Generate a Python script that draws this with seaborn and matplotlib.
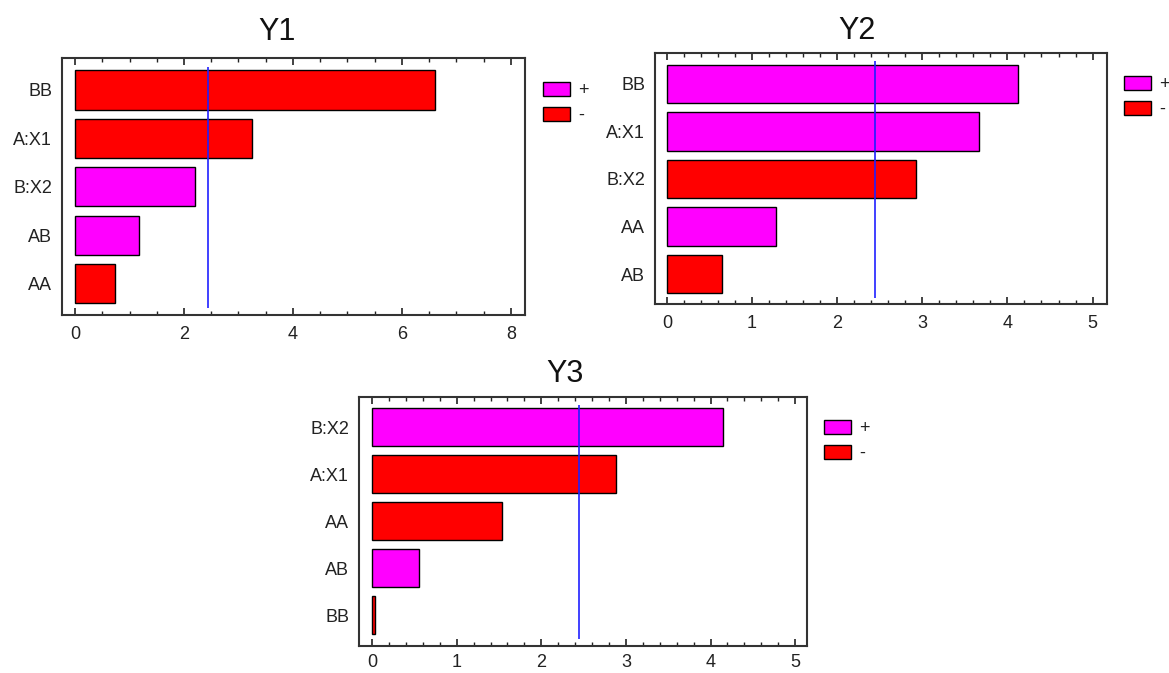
import matplotlib
matplotlib.use("Agg")
import matplotlib.pyplot as plt
from matplotlib.patches import Patch
from matplotlib.ticker import MultipleLocator
import seaborn as sns
import pandas as pd

sns.set_theme(style="white")
plt.rcParams["font.family"] = ["Liberation Sans", "DejaVu Sans"]

# Standardized effects (Pareto charts) for each response
y1_terms = ["BB", "A:X1", "B:X2", "AB", "AA"]
y1_effects = [6.6, 3.25, 2.2, 1.17, 0.73]
y1_signs = ["-", "-", "+", "+", "-"]

y2_terms = ["BB", "A:X1", "B:X2", "AA", "AB"]
y2_effects = [4.12, 3.67, 2.93, 1.28, 0.65]
y2_signs = ["+", "+", "-", "+", "-"]

y3_terms = ["B:X2", "A:X1", "AA", "AB", "BB"]
y3_effects = [4.15, 2.88, 1.54, 0.55, 0.04]
y3_signs = ["+", "-", "-", "+", "-"]

# critical t value (alpha = 0.05)
t_crit = 2.447

palette = {"+": "#FF00FF", "-": "#FF0000"}

fig = plt.figure(figsize=(11.69, 6.73), dpi=100)

panels = [
    dict(title="Y1", terms=y1_terms, effects=y1_effects, signs=y1_signs,
         rect=[0.0530, 0.5319, 0.3961, 0.3819], xlim=(-0.24, 8.26), ylim=(4.65, -0.66),
         major=2, minor=0.5, title_x=0.464, title_pad=13, tick_pad=8,
         legend_xy=(0.4568, 0.8915)),
    dict(title="Y2", terms=y2_terms, effects=y2_effects, signs=y2_signs,
         rect=[0.5603, 0.5483, 0.3867, 0.3730], xlim=(-0.14, 5.17), ylim=(4.63, -0.65),
         major=1, minor=0.2, title_x=0.447, title_pad=10, tick_pad=8,
         legend_xy=(0.9538, 0.9004)),
    dict(title="Y3", terms=y3_terms, effects=y3_effects, signs=y3_signs,
         rect=[0.3071, 0.0401, 0.3832, 0.3700], xlim=(-0.155, 5.14), ylim=(4.66, -0.65),
         major=1, minor=0.2, title_x=0.46, title_pad=11, tick_pad=6,
         legend_xy=(0.6972, 0.3893)),
]

for p in panels:
    ax = fig.add_axes(p["rect"])
    df = pd.DataFrame({"term": p["terms"], "effect": p["effects"], "sign": p["signs"]})
    sns.barplot(data=df, x="effect", y="term", hue="sign", palette=palette,
                order=p["terms"], hue_order=["+", "-"], dodge=False, width=0.81,
                edgecolor="black", linewidth=1.0, saturation=1, ax=ax, legend=False)
    ax.vlines(t_crit, -0.48, 4.5, color="#2020FF", linewidth=1.2, zorder=3)
    ax.set_xlim(*p["xlim"])
    ax.set_ylim(*p["ylim"])
    ax.set_xlabel("")
    ax.set_ylabel("")
    ax.set_title(p["title"], fontsize=22, x=p["title_x"], pad=p["title_pad"],
                 color="#111111")
    ax.xaxis.set_major_locator(MultipleLocator(p["major"]))
    ax.xaxis.set_minor_locator(MultipleLocator(p["minor"]))
    ax.tick_params(axis="x", which="both", direction="in", top=True, bottom=True,
                   color="#222222", labelsize=13, labelcolor="#222222",
                   pad=p["tick_pad"])
    ax.tick_params(axis="x", which="major", length=5, width=1.2)
    ax.tick_params(axis="x", which="minor", length=3, width=1.0)
    ax.tick_params(axis="y", length=0, labelsize=13, labelcolor="#222222", pad=7)
    for s in ax.spines.values():
        s.set_visible(True)
        s.set_color("#333333")
        s.set_linewidth(1.5)
    handles = [Patch(facecolor=palette["+"], edgecolor="black", linewidth=1.0, label="+"),
               Patch(facecolor=palette["-"], edgecolor="black", linewidth=1.0, label="-")]
    fig.legend(handles=handles, loc="upper left", bbox_to_anchor=p["legend_xy"],
               frameon=False, fontsize=13, handlelength=1.5, handleheight=0.83,
               labelspacing=0.4, handletextpad=0.45, borderpad=0.0,
               labelcolor="#222222")

fig.savefig("out.png", dpi=100)
